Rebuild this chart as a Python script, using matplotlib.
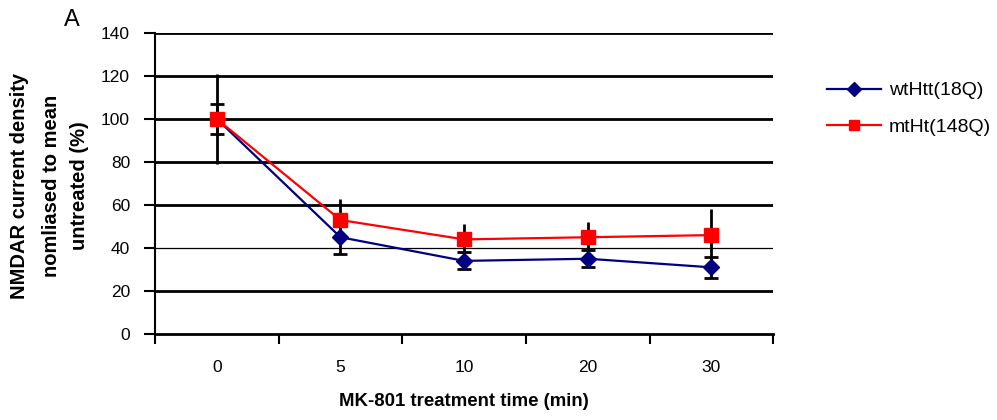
import matplotlib
matplotlib.use("Agg")
import matplotlib.pyplot as plt
import numpy as np

categories = ["0", "5", "10", "20", "30"]
wt_values = [100, 45, 34, 35, 31]
wt_err = [7, 8, 4, 4, 5]
mt_values = [100, 53, 44, 45, 46]
mt_err = [21, 10, 7, 7, 12]
y_ticks = [0, 20, 40, 60, 80, 100, 120, 140]

plt.rcParams['font.family'] = ['Liberation Sans', 'DejaVu Sans']

fig = plt.figure(figsize=(9.97, 4.2), dpi=100)
ax = fig.add_axes([0.1555, 0.2048, 0.62, 0.7166])

x = np.arange(len(categories))

# gridlines
for v in y_ticks[1:]:
    ax.axhline(v, color='black', lw=0.9 if v == 40 else 2.0, zorder=1)

ax.errorbar(x, mt_values, yerr=mt_err, fmt='none', ecolor='black', elinewidth=2, capsize=0, zorder=2)
ax.errorbar(x, wt_values, yerr=wt_err, fmt='none', ecolor='black', elinewidth=2, capsize=5, capthick=2, zorder=2)

ax.plot(x, wt_values, color='#000080', lw=1.6, marker='D', markersize=8, label='wtHtt(18Q)', zorder=3)
ax.plot(x, mt_values, color='#ff0000', lw=1.6, marker='s', markersize=10, label='mtHt(148Q)', zorder=4)

ax.set_xlim(-0.5, len(categories) - 0.5)
ax.set_ylim(0, 140)
ax.set_yticks(y_ticks)
ax.set_yticklabels([str(v) for v in y_ticks], fontsize=12.5)
ax.set_xticks(x)
ax.set_xticklabels(categories, fontsize=12.5)
ax.set_xticks(np.arange(-0.5, len(categories), 1.0), minor=True)
ax.tick_params(axis='x', which='major', length=0, pad=19)
ax.tick_params(axis='x', which='minor', length=7, width=1.5, direction='out')
ax.tick_params(axis='y', length=8, width=1.5, direction='out', pad=10)

for s in ['top', 'right']:
    ax.spines[s].set_visible(False)
ax.spines['left'].set_linewidth(1.5)
ax.spines['bottom'].set_linewidth(2)

ax.set_xlabel('MK-801 treatment time (min)', fontsize=13.4, fontweight='bold', labelpad=13)

fig.text(0.020, 0.557, 'NMDAR current density', rotation=90, fontsize=14.5, fontweight='bold', ha='center', va='center')
fig.text(0.052, 0.557, 'nomliased to mean', rotation=90, fontsize=14.5, fontweight='bold', ha='center', va='center')
fig.text(0.080, 0.557, 'untreated (%)', rotation=90, fontsize=14.5, fontweight='bold', ha='center', va='center')

fig.text(0.064, 0.953, 'A', fontsize=17, ha='left', va='center')

leg = fig.legend(loc='upper left', bbox_to_anchor=(0.8215, 0.824), frameon=False, fontsize=14,
                 handlelength=2.8, handletextpad=0.4, labelspacing=0.97, borderaxespad=0)
for h in leg.legend_handles:
    h.set_markersize(7)

fig.savefig('out.png', dpi=100)
